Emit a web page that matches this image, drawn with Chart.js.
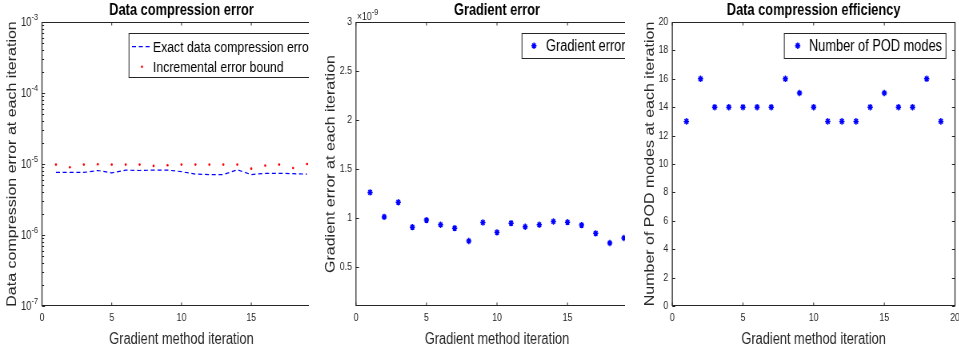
<!DOCTYPE html>
<html>
<head>
<meta charset="utf-8">
<script src="https://cdn.jsdelivr.net/npm/chart.js@4.4.1/dist/chart.umd.min.js"></script>
<style>
  body { margin: 0; background: #fff; width: 959px; height: 352px; overflow: hidden; position: relative; }
  .panel { position: absolute; top: 0; height: 352px; overflow: hidden; }
  /* the source figure is squeezed sideways, so draw wide and squeeze */
  .panel canvas { position: absolute; top: 0; left: 0; transform: scaleX(0.8); transform-origin: 0 0; }
</style>
</head>
<body>
<div class="panel" style="left:0;width:309px"><canvas id="c1" width="425" height="352"></canvas></div>
<div class="panel" style="left:309px;width:316px"><canvas id="c2" width="432" height="352"></canvas></div>
<div class="panel" style="left:625px;width:334px"><canvas id="c3" width="418" height="352"></canvas></div>
<script>
// data
const iterations = [1, 2, 3, 4, 5, 6, 7, 8, 9, 10, 11, 12, 13, 14, 15, 16, 17, 18, 19];
const exactError = [7.6e-6, 7.6e-6, 7.6e-6, 8.1e-6, 7.5e-6, 8.2e-6, 8.1e-6, 8.2e-6, 8.2e-6, 7.8e-6,
                    7.2e-6, 7.1e-6, 7.1e-6, 8.3e-6, 7.1e-6, 7.4e-6, 7.4e-6, 7.3e-6, 7.2e-6];
const errorBound = [9.8e-6, 9.0e-6, 9.8e-6, 9.9e-6, 9.8e-6, 9.8e-6, 9.8e-6, 9.4e-6, 9.6e-6, 9.8e-6,
                    9.8e-6, 9.8e-6, 9.8e-6, 9.8e-6, 8.6e-6, 9.5e-6, 9.8e-6, 8.8e-6, 1.0e-5];
const gradientError = [1.26, 1.01, 1.16, 0.905, 0.977, 0.93, 0.895, 0.764, 0.953, 0.852,
                       0.946, 0.909, 0.93, 0.963, 0.956, 0.926, 0.842, 0.743, 0.794]; // x 1e-9
const podModes = [13, 16, 14, 14, 14, 14, 14, 16, 15, 14, 13, 13, 13, 14, 15, 14, 14, 16, 13];

const xTicks = [0, 5, 10, 15, 20];
const logTickExps = [-7, -6, -5, -4, -3];
const gradTicks = [0.5, 1, 1.5, 2, 2.5, 3];
const podTicks = [0, 2, 4, 6, 8, 10, 12, 14, 16, 18, 20];

const SX = 0.8; // css squeeze, canvas x = page x / SX
const FONT = '"Liberation Sans", Arial, sans-serif';
const INK = '#262626';
const BLUE = '#0000ff';
const RED = '#ff0000';

function pts(ys) {
  return iterations.map((x, i) => ({ x: x, y: ys[i] }));
}

function marker(ctx, style, x, y, r, color) {
  ctx.save();
  ctx.strokeStyle = color; ctx.fillStyle = color; ctx.lineWidth = 1.5;
  if (style === 'star') {
    ctx.beginPath();
    ctx.moveTo(x - r, y); ctx.lineTo(x + r, y);
    ctx.moveTo(x, y - r); ctx.lineTo(x, y + r);
    const d = r * Math.SQRT1_2;
    ctx.moveTo(x - d, y - d); ctx.lineTo(x + d, y + d);
    ctx.moveTo(x - d, y + d); ctx.lineTo(x + d, y - d);
    ctx.stroke();
  } else {
    ctx.beginPath(); ctx.arc(x, y, r, 0, Math.PI * 2); ctx.fill();
  }
  ctx.restore();
}

// matlab style box, inward ticks, title and in-axes legend
const matlabAxes = {
  id: 'matlabAxes',
  afterDraw(chart, args, o) {
    const ctx = chart.ctx, a = chart.chartArea;
    const xs = chart.scales.x, ys = chart.scales.y;
    const L = a.left, R = a.right;
    const T = Math.round(a.top) + 0.5, B = Math.round(a.bottom) - 0.5;
    const hx = 3 / SX;
    ctx.save();
    ctx.strokeStyle = INK;
    ctx.lineWidth = 1;
    ctx.beginPath();
    ctx.moveTo(L, T); ctx.lineTo(R, T);
    ctx.moveTo(L, B); ctx.lineTo(R, B);
    xs.ticks.forEach(t => {
      const px = xs.getPixelForValue(t.value);
      ctx.moveTo(px, B); ctx.lineTo(px, B - 3);
      ctx.moveTo(px, T); ctx.lineTo(px, T + 3);
    });
    ys.ticks.forEach(t => {
      const py = Math.round(ys.getPixelForValue(t.value)) + 0.5;
      ctx.moveTo(L, py); ctx.lineTo(L + hx, py);
      ctx.moveTo(R, py); ctx.lineTo(R - hx, py);
    });
    if (o.logMinor) {
      for (let e = logTickExps[0]; e < logTickExps[logTickExps.length - 1]; e++) {
        for (let m = 2; m <= 9; m++) {
          const py = Math.round(ys.getPixelForValue(m * Math.pow(10, e))) + 0.5;
          ctx.moveTo(L, py); ctx.lineTo(L + hx * 0.7, py);
          ctx.moveTo(R, py); ctx.lineTo(R - hx * 0.7, py);
        }
      }
    }
    ctx.stroke();
    // vertical sides a bit wider so they survive the squeeze
    ctx.lineWidth = 1 / SX;
    ctx.beginPath();
    ctx.moveTo(L, T - 0.5); ctx.lineTo(L, B + 0.5);
    ctx.moveTo(R, T - 0.5); ctx.lineTo(R, B + 0.5);
    ctx.stroke();

    ctx.fillStyle = INK;
    ctx.textBaseline = 'middle';
    // log tick labels as 10 with superscript exponent
    if (o.logMinor) {
      logTickExps.forEach(e => {
        const py = ys.getPixelForValue(Math.pow(10, e));
        ctx.font = '9px ' + FONT;
        const ex = String(e);
        const ew = ctx.measureText(ex).width;
        ctx.textAlign = 'right';
        ctx.fillText(ex, L - 5, py - 4);
        ctx.font = '12px ' + FONT;
        ctx.fillText('10', L - 5 - ew, py + 1);
      });
    }
    if (o.exponent) {
      ctx.textAlign = 'left';
      ctx.font = '11px ' + FONT;
      ctx.fillText('\u00d710', L + 1, 17);
      const w = ctx.measureText('\u00d710').width;
      ctx.font = '9px ' + FONT;
      ctx.fillText(o.exponent, L + 1 + w, 13);
    }

    // title
    ctx.fillStyle = '#000';
    ctx.textAlign = 'center';
    ctx.font = 'bold 16px ' + FONT;
    ctx.fillText(o.title, (L + R) / 2, 11);

    // legend
    const lg = o.legend;
    const lx = lg.x / SX, lw = lg.w / SX;
    ctx.fillStyle = '#fff';
    ctx.fillRect(lx, lg.y + 0.5, lw, lg.h);
    ctx.strokeStyle = INK;
    ctx.lineWidth = 1;
    ctx.strokeRect(lx, lg.y + 0.5, lw, lg.h);
    ctx.font = lg.size + 'px ' + FONT;
    ctx.textAlign = 'left';
    chart.data.datasets.forEach((ds, i) => {
      const ry = lg.rows[i];
      const mx = lg.markX / SX;
      if (ds.showLine) {
        ctx.save();
        ctx.strokeStyle = ds.borderColor;
        ctx.lineWidth = ds.borderWidth;
        ctx.setLineDash(ds.borderDash || []);
        ctx.beginPath();
        ctx.moveTo(mx - 12.5, ry); ctx.lineTo(mx + 12.5, ry);
        ctx.stroke();
        ctx.restore();
      } else {
        marker(ctx, ds.pointStyle, mx, ry, ds.pointRadius, ds.borderColor);
      }
      ctx.fillStyle = '#000';
      ctx.fillText(ds.label, lg.textX / SX, ry + 1);
    });
    ctx.restore();
  }
};

function xScale() {
  return {
    type: 'linear', min: 0, max: 20,
    grid: { display: false, drawTicks: false }, border: { display: false },
    afterBuildTicks: s => { s.ticks = xTicks.map(v => ({ value: v })); },
    afterFit: s => { s.height = 46; s.paddingLeft = 0; s.paddingRight = 0; },
    ticks: { padding: 5, color: INK, font: { family: FONT, size: 11 }, maxRotation: 0, autoSkip: false,
             callback: v => String(v) },
    title: { display: true, text: 'Gradient method iteration', color: INK,
             font: { family: FONT, size: 16, lineHeight: 1 }, padding: { top: 0, bottom: 4 } }
  };
}

function yScale(c) {
  return Object.assign({
    grid: { display: false, drawTicks: false }, border: { display: false },
    afterBuildTicks: s => { s.ticks = c.ticks.map(v => ({ value: v })); },
    afterFit: s => { s.width = c.left / SX; s.paddingTop = 0; s.paddingBottom = 0; },
    ticks: { padding: 5, color: INK, font: { family: FONT, size: 11 }, callback: v => String(v) },
    title: { display: true, text: c.label, color: INK,
             font: { family: FONT, size: 16, lineHeight: 1 },
             padding: { top: c.labelX / SX - 8, bottom: 0 } }
  }, c.opts);
}

function makeChart(id, c) {
  const cv = document.getElementById(id);
  return new Chart(cv, {
    type: 'scatter',
    data: { datasets: c.datasets },
    options: {
      responsive: false,
      animation: false,
      events: [],
      layout: { autoPadding: false, padding: { left: 0, top: 22, right: cv.width - c.right / SX, bottom: 0 } },
      plugins: {
        legend: { display: false },
        tooltip: { enabled: false },
        matlabAxes: c.axes
      },
      scales: { x: xScale(), y: yScale(c.y) }
    },
    plugins: [matlabAxes]
  });
}

makeChart('c1', {
  right: 321,
  datasets: [
    { label: 'Exact data compression error', data: pts(exactError), showLine: true,
      borderColor: BLUE, borderWidth: 1.2, borderDash: [5, 3.5], pointRadius: 0 },
    { label: 'Incremental error bound', data: pts(errorBound), pointStyle: 'circle',
      pointRadius: 1.3, borderColor: RED, backgroundColor: RED, borderWidth: 0 }
  ],
  y: {
    left: 42, labelX: 12.5, ticks: logTickExps.map(e => Math.pow(10, e)),
    label: 'Data compression error at each iteration',
    opts: { type: 'logarithmic', min: 1e-7, max: 1e-3, ticks: { display: false } }
  },
  axes: {
    title: 'Data compression error', logMinor: true,
    legend: { x: 129, y: 33, w: 200, h: 44, rows: [46.7, 66.7], markX: 142, textX: 153, size: 15.3 }
  }
});

makeChart('c2', {
  right: 329,
  datasets: [
    { label: 'Gradient error', data: pts(gradientError), pointStyle: 'star',
      pointRadius: 3.2, borderColor: BLUE, borderWidth: 1.5 }
  ],
  y: {
    left: 47, labelX: 22, ticks: gradTicks,
    label: 'Gradient error at each iteration',
    opts: { type: 'linear', min: 0.1, max: 3 }
  },
  axes: {
    title: 'Gradient error', exponent: '-9',
    legend: { x: 213, y: 33, w: 130, h: 25, rows: [45.7], markX: 225, textX: 237, size: 16 }
  }
});

makeChart('c3', {
  right: 330,
  datasets: [
    { label: 'Number of POD modes', data: pts(podModes), pointStyle: 'star',
      pointRadius: 3.3, borderColor: BLUE, borderWidth: 1.5 }
  ],
  y: {
    left: 47.3, labelX: 25, ticks: podTicks,
    label: 'Number of POD modes at each iteration',
    opts: { type: 'linear', min: 0, max: 20 }
  },
  axes: {
    title: 'Data compression efficiency',
    legend: { x: 159.3, y: 33, w: 161.7, h: 25, rows: [45.7], markX: 172.7, textX: 184, size: 16 }
  }
});
</script>
</body>
</html>
